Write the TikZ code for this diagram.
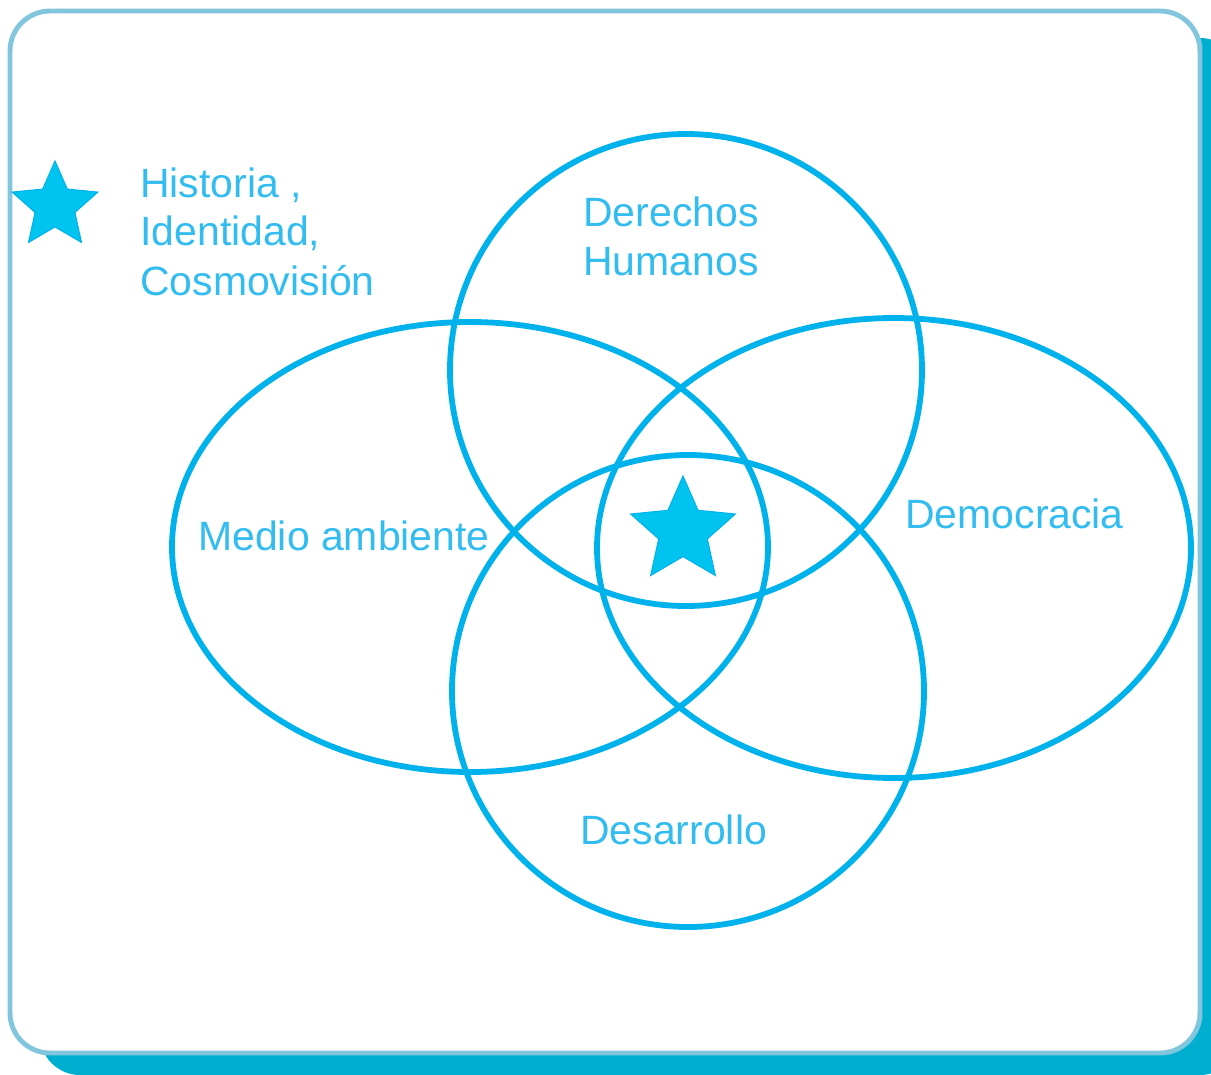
\documentclass[tikz,border=0pt]{standalone}
\usepackage{fontspec}
\setmainfont{Liberation Sans}
\usetikzlibrary{shapes.geometric}
\definecolor{venncyan}{RGB}{0,178,236}
\definecolor{textcyan}{RGB}{50,188,240}
\definecolor{starcyan}{RGB}{0,196,240}
\definecolor{framegray}{RGB}{130,198,222}
\definecolor{shadowcyan}{RGB}{0,174,208}

\begin{document}
\begin{tikzpicture}[x=0.02cm,y=-0.02cm,
    ring/.style={venncyan,line width=3.3pt},
    lbl/.style={textcyan,anchor=base west,inner sep=0pt,font=\fontsize{23.3}{28}\selectfont},
    vstar/.style={star,star points=5,star point ratio=2.15,fill=starcyan,draw=venncyan,line width=0.6pt,inner sep=0pt}]
  \clip (0,0) rectangle (1211,1075);
  % frame and its shadow
  \fill[shadowcyan,rounded corners=0.8cm] (40,38) rectangle (1240,1075);
  \draw[framegray,line width=2.8pt,fill=white,rounded corners=0.8cm] (10,11) rectangle (1200,1053);
  % legend
  \node[vstar,minimum size=1.8cm] (keystar) at (55,206) {};
  \node[lbl] (hist) at (140,197) {Historia ,};
  \node[lbl] (ident) at (140,245) {Identidad,};
  \node[lbl] (cosmo) at (140,295) {Cosmovisión};
  % the four sets
  \draw[ring] (686,370) circle [radius=236];
  \draw[ring] (688,691) circle [radius=236];
  \draw[ring] (470,547) ellipse [x radius=298,y radius=225];
  \draw[ring] (894,548) ellipse [x radius=297,y radius=230];
  \node[vstar,minimum size=2.2cm] (core) at (683,531) {};
  \node[lbl] (dh1) at (583,226) {Derechos};
  \node[lbl] (dh2) at (583,275) {Humanos};
  \node[lbl] (medio) at (198,550) {Medio ambiente};
  \node[lbl] (demo) at (905,528) {Democracia};
  \node[lbl] (desa) at (580,844) {Desarrollo};
\end{tikzpicture}
\end{document}
